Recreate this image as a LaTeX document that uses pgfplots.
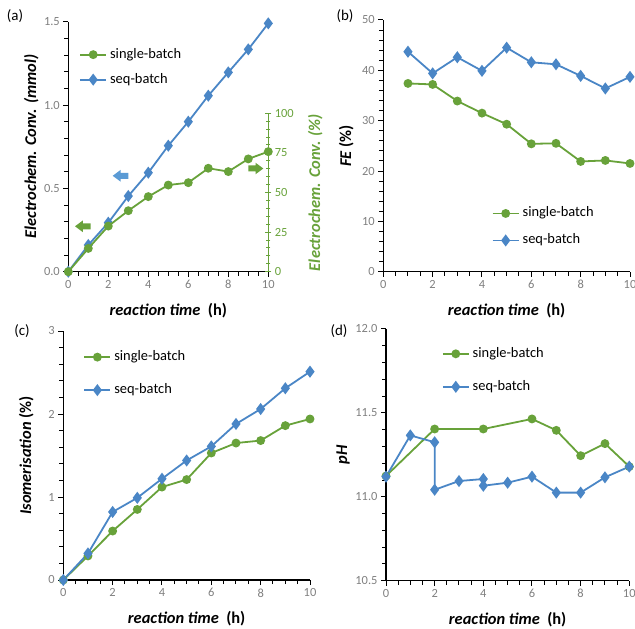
\documentclass[border=0pt]{standalone}
\usepackage{fontspec}
\setmainfont{Carlito}
\usepackage{pgfplots}
\pgfplotsset{compat=1.18}

\definecolor{cgreen}{RGB}{104,162,58}
\definecolor{cblue}{RGB}{74,134,198}
\definecolor{cbluearrow}{RGB}{91,155,213}
\definecolor{tickgray}{RGB}{128,128,128}

\newcommand{\lbl}[1]{\fontsize{16.5}{18}\selectfont\bfseries #1}

\pgfplotsset{
  gline/.style={color=cgreen, line width=1.8bp, mark=*, mark size=3.5bp, mark options={solid}},
  bline/.style={color=cblue, line width=1.8bp, mark=diamond*, mark size=4.6bp, mark options={solid}},
  panel/.style={
    scale only axis,
    axis lines*=left,
    axis line style={line width=1.2bp, black},
    tick align=outside,
    major tick length=5bp, minor tick length=4bp,
    every tick/.style={black, line width=1bp},
    xmin=0, xmax=10, xtick={0,2,...,10},
    minor x tick num=3, minor y tick num=4,
    ticklabel style={font=\fontsize{12.5}{14}\selectfont, color=tickgray},
    /pgf/number format/assume math mode=true,
    every axis x label/.style={at={(axis description cs:0.5,0)}, anchor=center, yshift=-39bp},
    every axis y label/.style={at={(axis description cs:0,0.5)}, anchor=center, xshift=-37bp, rotate=90},
    xlabel={\lbl{\textit{reaction time}\ \ (h)}},
    legend cell align=left,
    legend style={draw=none, fill=none, inner sep=0pt, anchor=north west,
      font=\fontsize{14.5}{16}\selectfont,
      nodes={inner sep=0pt, text height=10bp, text depth=3bp}, column sep=3bp},
    legend image code/.code={%
      \draw[mark repeat=2, mark phase=2, ##1] plot coordinates {(0bp,0bp) (13bp,0bp) (26bp,0bp)};},
  },
}

\begin{document}
\begin{tikzpicture}
\useasboundingbox (0bp,0bp) rectangle (635bp,629bp);

% (a) left axis, mmol
\begin{axis}[panel, at={(68.3bp,357.3bp)}, anchor=south west,
    width=200bp, height=250bp,
    ymin=0, ymax=1.5, ytick={0,0.5,1,1.5},
    yticklabel style={/pgf/number format/.cd, fixed, fixed zerofill, precision=1},
    ylabel={\lbl{\textit{Electrochem. Conv. (mmol)}}},
    legend style={at={(0.054,0.895)}, row sep=12bp}]
  \addlegendimage{gline}
  \addlegendentry{single-batch}
  \addplot[bline] coordinates {(0,0) (1,0.16) (2,0.294) (3,0.454) (4,0.594) (5,0.756)
    (6,0.90) (7,1.056) (8,1.196) (9,1.334) (10,1.49)};
  \addlegendentry{seq-batch}
\end{axis}

% (a) right axis, percent
\begin{axis}[scale only axis, at={(68.3bp,357.3bp)}, anchor=south west,
    width=200bp, height=158.4bp,
    xmin=0, xmax=10, hide x axis,
    axis y line*=right,
    axis line style={line width=1.2bp, cgreen},
    tick align=center, major tick length=6bp, minor tick length=4bp,
    every tick/.style={cgreen, line width=1bp},
    ymin=0, ymax=100, ytick={0,25,...,100}, minor y tick num=4,
    ticklabel style={font=\fontsize{12.5}{14}\selectfont, color=cgreen},
    /pgf/number format/assume math mode=true,
    every axis y label/.style={at={(axis description cs:1,0.5)}, anchor=center, xshift=47bp, rotate=90},
    ylabel={\color{cgreen}\lbl{\textit{Electrochem. Conv. (\%)}}}]
  \addplot[gline] coordinates {(0,0) (1,14.7) (2,28.8) (3,38.5) (4,47.4) (5,54.7)
    (6,56.2) (7,65.3) (8,63.2) (9,71.2) (10,75.8)};
\end{axis}

% arrows in (a)
\begin{scope}[x=1bp, y=1bp]
\fill[cbluearrow] (112.7,453.2) -- (120.5,459) -- (120.5,456.2) -- (128.3,456.2)
  -- (128.3,450.2) -- (120.5,450.2) -- (120.5,447.4) -- cycle;
\fill[cgreen] (75,402.7) -- (82.8,408.5) -- (82.8,405.7) -- (90.7,405.7)
  -- (90.7,399.7) -- (82.8,399.7) -- (82.8,396.9) -- cycle;
\fill[cgreen] (263.3,460.5) -- (255.5,466.3) -- (255.5,463.5) -- (248.3,463.5)
  -- (248.3,457.5) -- (255.5,457.5) -- (255.5,454.7) -- cycle;
\end{scope}

% (b) FE
\begin{axis}[panel, at={(383.3bp,357.3bp)}, anchor=south west,
    width=246.7bp, height=251.7bp,
    ymin=0, ymax=50, ytick={0,10,...,50},
    ylabel={\lbl{\textit{FE} (\%)}},
    legend style={at={(0.439,0.258)}, row sep=14bp}]
  \addplot[gline] coordinates {(1,37.4) (2,37.2) (3,33.9) (4,31.5) (5,29.3)
    (6,25.4) (7,25.5) (8,21.9) (9,22.1) (10,21.5)};
  \addlegendentry{single-batch}
  \addplot[bline] coordinates {(1,43.7) (2,39.4) (3,42.6) (4,39.9) (5,44.5)
    (6,41.6) (7,41.2) (8,38.9) (9,36.4) (10,38.7)};
  \addlegendentry{seq-batch}
\end{axis}

% (c) isomerisation
\begin{axis}[panel, at={(63.3bp,49bp)}, anchor=south west,
    width=246.7bp, height=249bp,
    ymin=0, ymax=3, ytick={0,1,2,3},
    ylabel={\lbl{\textit{Isomerisation} (\%)}},
    legend style={at={(0.081,0.922)}, row sep=20bp}]
  \addplot[gline] coordinates {(0,0) (1,0.29) (2,0.59) (3,0.85) (4,1.12) (5,1.21)
    (6,1.53) (7,1.65) (8,1.68) (9,1.86) (10,1.94)};
  \addlegendentry{single-batch}
  \addplot[bline] coordinates {(0,0) (1,0.32) (2,0.82) (3,0.99) (4,1.22) (5,1.44)
    (6,1.61) (7,1.88) (8,2.06) (9,2.31) (10,2.51)};
  \addlegendentry{seq-batch}
\end{axis}

% (d) pH
\begin{axis}[panel, at={(386bp,48.3bp)}, anchor=south west,
    width=243.3bp, height=251.7bp,
    ymin=10.5, ymax=12, ytick={10.5,11,11.5,12},
    yticklabel style={/pgf/number format/.cd, fixed, fixed zerofill, precision=1},
    ylabel={\lbl{\textit{pH}}},
    every axis y label/.style={at={(axis description cs:0,0.5)}, anchor=center, xshift=-43bp, rotate=90},
    legend style={at={(0.229,0.928)}, row sep=20bp}]
  \addplot[gline] coordinates {(0,11.124) (2,11.404) (4,11.404) (6,11.464)
    (7,11.396) (8,11.245) (9,11.317) (10,11.18)};
  \addlegendentry{single-batch}
  \addplot[bline] coordinates {(0,11.12) (1,11.366) (2,11.325) (2,11.042) (3,11.094)
    (4,11.106) (4,11.066) (5,11.084) (6,11.12) (7,11.025) (8,11.025) (9,11.116) (10,11.18)};
  \addlegendentry{seq-batch}
\end{axis}

% panel letters
\begin{scope}[x=1bp, y=1bp, every node/.style={font=\fontsize{15}{17}\selectfont}]
\node at (15,613) {(a)};
\node at (345,613) {(b)};
\node at (22,298) {(c)};
\node at (339,298) {(d)};
\end{scope}
\end{tikzpicture}
\end{document}
